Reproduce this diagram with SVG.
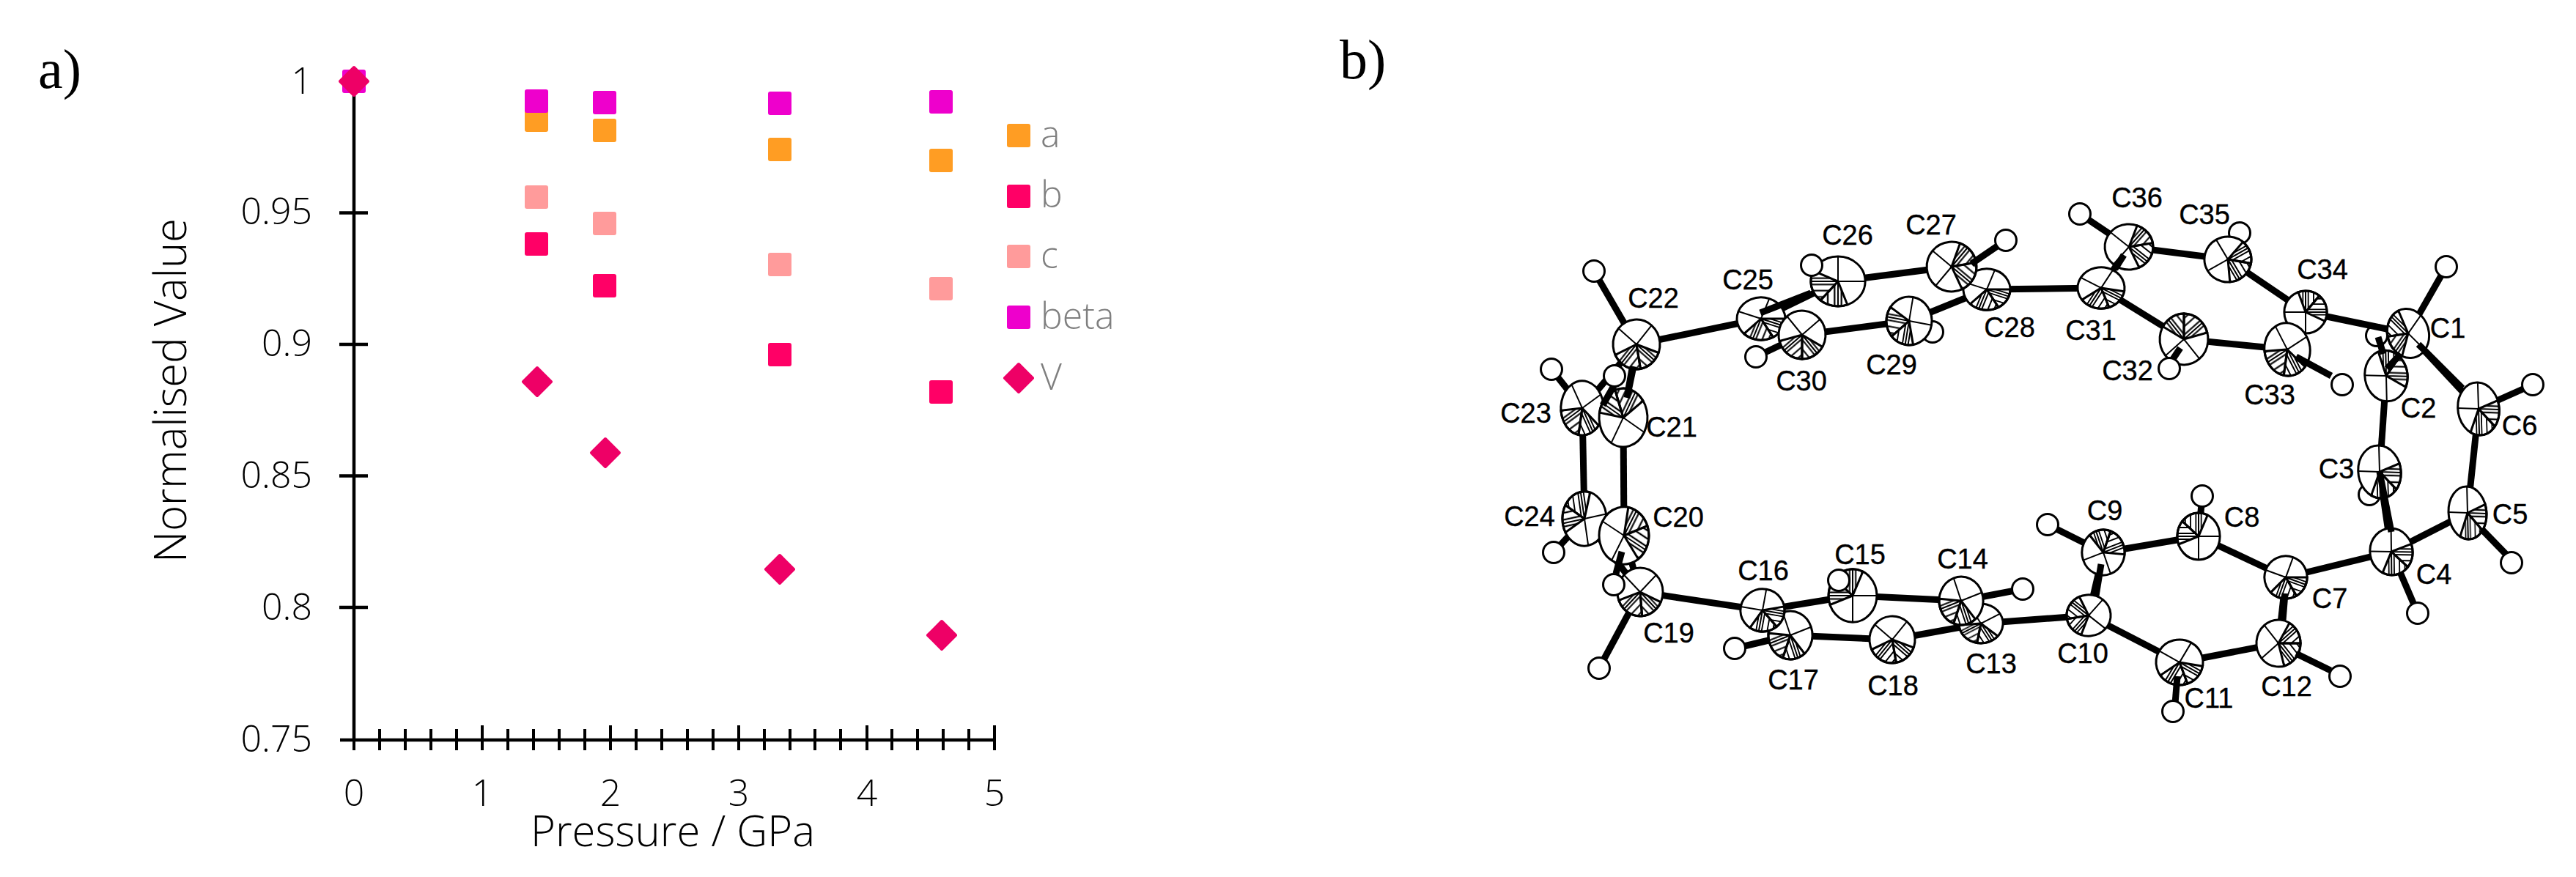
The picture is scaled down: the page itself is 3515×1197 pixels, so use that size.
<svg xmlns="http://www.w3.org/2000/svg" width="3515" height="1197" viewBox="0 0 3515 1197">
<style>
text{font-family:"Open Sans","Liberation Sans",sans-serif;font-weight:300;fill:#000}
.t{font-size:50px}
.m{text-anchor:middle}
.e{text-anchor:end}
.ax{fill:none;stroke:#000;stroke-width:4.5}
.tk{fill:none;stroke:#000;stroke-width:4}
.lg{font-size:50px;fill:#7f7f7f}
.p{font-family:"Liberation Serif",serif;font-weight:400;font-size:76px}
.l{font-family:"Liberation Sans",Arial,sans-serif;font-weight:400;font-size:38px;text-anchor:middle;stroke:#000;stroke-width:.35}
.A{fill:#ff9d23}.B{fill:#ff0066}.C{fill:#ff9b9b}.D{fill:#ee00cc}
.V{fill:#ee0066;stroke:#ee0066;stroke-width:4;stroke-linejoin:round}
.b{fill:none;stroke:#000;stroke-width:9}
.h{fill:#fff;stroke:#000;stroke-width:3}
.r{fill:#fff;stroke:#000;stroke-width:3;vector-effect:non-scaling-stroke}
.x{fill:none;stroke:#000;stroke-width:2;vector-effect:non-scaling-stroke}
.s{stroke:#000;stroke-width:3;vector-effect:non-scaling-stroke}
</style>
<defs>
<rect id="sq" x="-16" y="-16" width="32" height="32" rx="3"/>
<polygon id="di" points="0,-19 19,0 0,19 -19,0"/>
<pattern id="h1" patternUnits="userSpaceOnUse" width="8" height="8"><path d="M0,4H8" stroke="#000" stroke-width="2"/></pattern>
<pattern id="h2" patternUnits="userSpaceOnUse" width="8" height="8"><path d="M4,0V8" stroke="#000" stroke-width="2"/></pattern>
<g id="atom">
<circle class="r" r="32"/>
<path class="x" d="M-32,0H32M0,-32V32"/>
<path class="s" fill="url(#h1)" d="M0,0L30,-11A32,32 0 0 1 24.5,20.6Z"/>
<path class="s" fill="url(#h2)" d="M0,0L24.5,20.6A32,32 0 0 1 -13.5,29Z"/>
</g>
<circle id="hy" class="h" r="14.5"/>
</defs>
<rect width="3515" height="1197" fill="#fff"/>

<g id="panel-a">
<text class="p" x="52" y="120">a)</text>
<text class="p" x="1828" y="107">b)</text>
<path class="ax" d="M483,111V1010M464,1010H1357M463,290.5H502M463,470H502M463,649.5H502M463,829H502"/>
<path class="tk" d="M483,990V1024M518,995V1024M553,995V1024M588,995V1024M623,995V1024M658,990V1024M693,995V1024M728,995V1024M763,995V1024M798,995V1024M833,990V1024M868,995V1024M903,995V1024M938,995V1024M973,995V1024M1008,990V1024M1043,995V1024M1078,995V1024M1112,995V1024M1147,995V1024M1183,990V1024M1217,995V1024M1252,995V1024M1287,995V1024M1322,995V1024M1357,990V1024"/>
<g class="t">
<text class="e" x="426" y="127.5">1</text>
<text class="e" x="426" y="306">0.95</text>
<text class="e" x="426" y="486">0.9</text>
<text class="e" x="426" y="665.5">0.85</text>
<text class="e" x="426" y="845.5">0.8</text>
<text class="e" x="426" y="1026">0.75</text>
<text class="m" x="483" y="1100">0</text>
<text class="m" x="658" y="1100">1</text>
<text class="m" x="833" y="1100">2</text>
<text class="m" x="1008" y="1100">3</text>
<text class="m" x="1183" y="1100">4</text>
<text class="m" x="1357" y="1100">5</text>
</g>
<text x="724" y="1155" font-size="58" textLength="388">Pressure / GPa</text>
<text transform="translate(254,768) rotate(-90)" font-size="60" textLength="470">Normalised Value</text>
<g class="A"><use href="#sq" x="732" y="164"/><use href="#sq" x="825" y="178"/><use href="#sq" x="1064" y="204"/><use href="#sq" x="1284" y="219"/></g>
<g class="C"><use href="#sq" x="732" y="269"/><use href="#sq" x="825" y="305"/><use href="#sq" x="1064" y="361"/><use href="#sq" x="1284" y="394"/></g>
<g class="B"><use href="#sq" x="732" y="333"/><use href="#sq" x="825" y="390"/><use href="#sq" x="1064" y="484"/><use href="#sq" x="1284" y="535"/></g>
<g class="D"><use href="#sq" x="483" y="111"/><use href="#sq" x="732" y="138"/><use href="#sq" x="825" y="140"/><use href="#sq" x="1064" y="141"/><use href="#sq" x="1284" y="139"/></g>
<g class="V"><use href="#di" x="483" y="111"/><use href="#di" x="733" y="521"/><use href="#di" x="826" y="618"/><use href="#di" x="1064" y="777"/><use href="#di" x="1285" y="867"/></g>
<g id="legend">
<use class="A" href="#sq" x="1390" y="185"/><use class="B" href="#sq" x="1390" y="268"/><use class="C" href="#sq" x="1390" y="350"/><use class="D" href="#sq" x="1390" y="433"/><use class="V" href="#di" x="1390" y="516"/>
<text class="lg" x="1420" y="201" style="fill:#7f7f7f">a</text>
<text class="lg" x="1420" y="283" style="fill:#7f7f7f">b</text>
<text class="lg" x="1420" y="366" style="fill:#7f7f7f">c</text>
<text class="lg" x="1420" y="449" style="fill:#7f7f7f">beta</text>
<text class="lg" x="1420" y="532" style="fill:#7f7f7f">V</text>
</g>
</g>

<g id="back-hydrogens">
<g id="H29"><use href="#hy" x="2637" y="453"/></g>
<g id="H35"><use href="#hy" x="3056" y="318"/></g>
<g id="H2"><use href="#hy" x="3243" y="458"/></g>
<g id="H3"><use href="#hy" x="3233" y="675"/></g>
</g>

<g id="connectors">
<path class="b" d="M3286,455L3256,513"/><path class="b" d="M3286,455L3382,558"/><path class="b" d="M3286,455L3146,426"/>
<path class="b" d="M3256,513L3247,644"/><path class="b" d="M3247,644L3263,753"/><path class="b" d="M3263,753L3367,700"/>
<path class="b" d="M3367,700L3382,558"/><path class="b" d="M3263,753L3119,788"/><path class="b" d="M3119,788L3000,732"/>
<path class="b" d="M3000,732L2870,754"/><path class="b" d="M2870,754L2850,840"/><path class="b" d="M2850,840L2974,904"/>
<path class="b" d="M2974,904L3109,878"/><path class="b" d="M3109,878L3119,788"/><path class="b" d="M2850,840L2703,851"/>
<path class="b" d="M2703,851L2676,820"/><path class="b" d="M2676,820L2528,813"/><path class="b" d="M2528,813L2405,833"/>
<path class="b" d="M2405,833L2443,867"/><path class="b" d="M2443,867L2582,873"/><path class="b" d="M2582,873L2703,851"/>
<path class="b" d="M2405,833L2238,808"/><path class="b" d="M2238,808L2216,731"/><path class="b" d="M2216,731L2215,570"/>
<path class="b" d="M2215,570L2233,470"/><path class="b" d="M2159,557L2162,708"/><path class="b" d="M2162,708L2238,808"/>
<path class="b" d="M2233,470L2159,557"/><path class="b" d="M2233,470L2403,435"/><path class="b" d="M2403,435L2508,384"/>
<path class="b" d="M2508,384L2663,364"/><path class="b" d="M2663,364L2711,395"/><path class="b" d="M2711,395L2605,438"/>
<path class="b" d="M2605,438L2459,457"/><path class="b" d="M2459,457L2403,435"/><path class="b" d="M2711,395L2867,393"/>
<path class="b" d="M2867,393L2980,463"/><path class="b" d="M2980,463L3121,477"/><path class="b" d="M3121,477L3146,426"/>
<path class="b" d="M3146,426L3040,354"/><path class="b" d="M3040,354L2905,337"/><path class="b" d="M2905,337L2867,393"/>
<path class="b" d="M2175,370L2233,470"/><path class="b" d="M2117,504L2159,557"/><path class="b" d="M2396,487L2459,457"/>
<path class="b" d="M2838,292L2905,337"/><path class="b" d="M3338,364L3286,455"/><path class="b" d="M3456,525L3382,558"/>
<path class="b" d="M3005,677L3000,732"/><path class="b" d="M2794,716L2870,754"/><path class="b" d="M3299,837L3263,753"/>
<path class="b" d="M2120,754L2162,708"/><path class="b" d="M2182,912L2238,808"/><path class="b" d="M2760,804L2676,820"/>
<path class="b" d="M2367,885L2443,867"/>
</g>

<g id="atoms">
<g id="C13"><use href="#atom" transform="translate(2703,851) scale(.94,.84) rotate(60)"/><text class="l" x="2717" y="919">C13</text></g>
<g id="C14"><use href="#atom" transform="translate(2676,820) scale(.94,1.03) rotate(70)"/><text class="l" x="2678" y="776">C14</text></g>
<g id="C15"><use href="#atom" transform="translate(2528,813) scale(1.03,1.13) rotate(180)"/><text class="l" x="2538" y="770">C15</text></g>
<g id="C17"><use href="#atom" transform="translate(2443,867) scale(.94,1.03) rotate(70)"/><text class="l" x="2447" y="941">C17</text></g>
<g id="C16"><use href="#atom" transform="translate(2405,833) scale(.94,.91) rotate(10)"/><text class="l" x="2406" y="792">C16</text></g>
<g id="C18"><use href="#atom" transform="translate(2582,873) scale(.97,1) rotate(40)"/><text class="l" x="2583" y="949">C18</text></g>
<g id="C28"><use href="#atom" transform="translate(2711,395) scale(1,.88) rotate(20)"/><text class="l" x="2742" y="460">C28</text></g>
<g id="C27"><use href="#atom" transform="translate(2663,364) scale(1.06,1.06) rotate(-50)"/><text class="l" x="2635" y="320">C27</text></g>
<g id="C26"><use href="#atom" transform="translate(2508,384) scale(1.16,1.06) rotate(90)"/><text class="l" x="2521" y="334">C26</text></g>
<g id="C25"><use href="#atom" transform="translate(2403,435) scale(1.03,.91) rotate(20)"/><text class="l" x="2385" y="395">C25</text></g>
<g id="C30"><use href="#atom" transform="translate(2459,457) scale(1,1.03) rotate(50)"/><text class="l" x="2458" y="533">C30</text></g>
<g id="C29"><use href="#atom" transform="translate(2605,438) scale(.97,1.03) rotate(100)"/><text class="l" x="2581" y="511">C29</text></g>
<g id="C22"><use href="#atom" transform="translate(2233,470) scale(1,1.06) rotate(40)"/><text class="l" x="2256" y="420">C22</text></g>
<g id="C23"><use href="#atom" transform="translate(2159,557) scale(.91,1.16) rotate(60)"/><text class="l" x="2082" y="577">C23</text></g>
<g id="C21"><use href="#atom" transform="translate(2215,570) scale(1.03,1.25) rotate(-150)"/><text class="l" x="2281" y="596">C21</text></g>
<g id="C24"><use href="#atom" transform="translate(2162,708) scale(.94,1.16) rotate(170)"/><text class="l" x="2087" y="718">C24</text></g>
<g id="C19"><use href="#atom" transform="translate(2238,808) scale(.97,1.03) rotate(45)"/><text class="l" x="2277" y="877">C19</text></g>
<g id="C20"><use href="#atom" transform="translate(2216,731) scale(1.06,1.22) rotate(-60)"/><text class="l" x="2290" y="719">C20</text></g>
<g id="C36"><use href="#atom" transform="translate(2905,337) scale(1.03,.97) rotate(-50)"/><text class="l" x="2916" y="283">C36</text></g>
<g id="C31"><use href="#atom" transform="translate(2867,393) scale(1,.88) rotate(30)"/><text class="l" x="2853" y="464">C31</text></g>
<g id="C35"><use href="#atom" transform="translate(3040,354) scale(1,.97) rotate(-30)"/><text class="l" x="3008" y="306">C35</text></g>
<g id="C34"><use href="#atom" transform="translate(3146,426) scale(.91,.91) rotate(-90)"/><text class="l" x="3169" y="381">C34</text></g>
<g id="C32"><use href="#atom" transform="translate(2980,463) scale(1.03,1.09) rotate(-130)"/><text class="l" x="2903" y="519">C32</text></g>
<g id="C33"><use href="#atom" transform="translate(3121,477) rotate(-8) scale(.97,1.13) rotate(68)"/><text class="l" x="3097" y="552">C33</text></g>
<g id="C2"><use href="#atom" transform="translate(3256,513) rotate(-8) scale(.91,1.09) rotate(-82)"/><text class="l" x="3300" y="570">C2</text></g>
<g id="C1"><use href="#atom" transform="translate(3286,455) rotate(-15) scale(.88,1.06) rotate(145)"/><text class="l" x="3340" y="461">C1</text></g>
<g id="C6"><use href="#atom" transform="translate(3382,558) rotate(-8) scale(.88,1.13) rotate(8)"/><text class="l" x="3438" y="594">C6</text></g>
<g id="C3"><use href="#atom" transform="translate(3247,644) rotate(-8) scale(.91,1.13) rotate(8)"/><text class="l" x="3188" y="653">C3</text></g>
<g id="C5"><use href="#atom" transform="translate(3367,700) rotate(-5) scale(.81,1.13) rotate(5)"/><text class="l" x="3425" y="715">C5</text></g>
<g id="C4"><use href="#atom" transform="translate(3263,753) rotate(-8) scale(.91,1) rotate(8)"/><text class="l" x="3321" y="797">C4</text></g>
<g id="C7"><use href="#atom" transform="translate(3119,788) scale(.91,.91) rotate(20)"/><text class="l" x="3179" y="830">C7</text></g>
<g id="C8"><use href="#atom" transform="translate(3000,732) scale(.91,1) rotate(180)"/><text class="l" x="3059" y="719">C8</text></g>
<g id="C9"><use href="#atom" transform="translate(2870,754) scale(.91,.97) rotate(-110)"/><text class="l" x="2872" y="710">C9</text></g>
<g id="C10"><use href="#atom" transform="translate(2850,840) scale(.94,.88) rotate(130)"/><text class="l" x="2842" y="905">C10</text></g>
<g id="C11"><use href="#atom" transform="translate(2974,904) scale(1,.97) rotate(30)"/><text class="l" x="3014" y="966">C11</text></g>
<g id="C12"><use href="#atom" transform="translate(3109,878) scale(.94,1) rotate(-40)"/><text class="l" x="3120" y="950">C12</text></g>
</g>

<g id="front-connectors">
<path class="b" d="M3247,644L3263,726"/><path class="b" d="M3300,470L3360,530"/><path class="b" d="M3257,503L3276,483"/>
<path class="b" d="M3245,460L3252,483"/><path class="b" d="M2213,753L2205,783"/><path class="b" d="M2229,500L2220,543"/>
<path class="b" d="M2898,348L2886,367"/><path class="b" d="M2975,475L2965,490"/><path class="b" d="M3133,487L3181,513"/>
<path class="b" d="M3386,722L3420,757"/><path class="b" d="M3133,892L3180,915"/><path class="b" d="M2971,923L2968,960"/>
<path class="b" d="M2867,770L2860,813"/><path class="b" d="M3118,810L3115,847"/><path class="b" d="M2737,328L2690,360"/>
<path class="b" d="M2402,427L2471,400"/><path class="b" d="M2187,553L2203,525"/>
</g>

<g id="hydrogens">
<g id="H22"><use href="#hy" x="2175" y="370"/></g>
<g id="H23"><use href="#hy" x="2117" y="504"/></g>
<g id="H21"><use href="#hy" x="2203" y="513"/></g>
<g id="H26"><use href="#hy" x="2472" y="362"/></g>
<g id="H27"><use href="#hy" x="2737" y="328"/></g>
<g id="H30"><use href="#hy" x="2396" y="487"/></g>
<g id="H36"><use href="#hy" x="2838" y="292"/></g>
<g id="H1"><use href="#hy" x="3338" y="364"/></g>
<g id="H32"><use href="#hy" x="2960" y="503"/></g>
<g id="H33"><use href="#hy" x="3196" y="525"/></g>
<g id="H6"><use href="#hy" x="3456" y="525"/></g>
<g id="H8"><use href="#hy" x="3005" y="677"/></g>
<g id="H9"><use href="#hy" x="2794" y="716"/></g>
<g id="H5"><use href="#hy" x="3427" y="768"/></g>
<g id="H4"><use href="#hy" x="3299" y="837"/></g>
<g id="H12"><use href="#hy" x="3193" y="923"/></g>
<g id="H11"><use href="#hy" x="2965" y="971"/></g>
<g id="H24"><use href="#hy" x="2120" y="754"/></g>
<g id="H19a"><use href="#hy" x="2202" y="798"/></g>
<g id="H19b"><use href="#hy" x="2182" y="912"/></g>
<g id="H15"><use href="#hy" x="2509" y="792"/></g>
<g id="H14"><use href="#hy" x="2760" y="804"/></g>
<g id="H17"><use href="#hy" x="2367" y="885"/></g>
</g>
</svg>
